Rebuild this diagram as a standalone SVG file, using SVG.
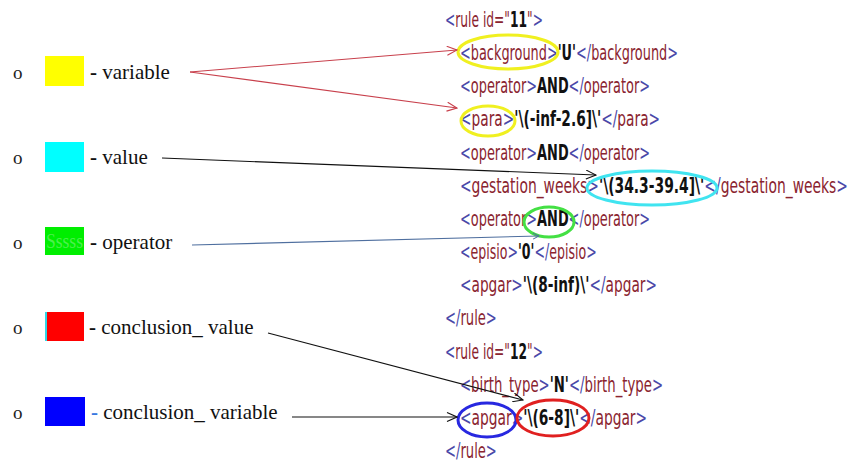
<svg xmlns="http://www.w3.org/2000/svg" width="851" height="464" viewBox="0 0 851 464">
  <style>
    .lbl { font-family: "Liberation Serif", "Times New Roman", serif; font-size: 21px; fill: #111; }
    .dash { font-weight: bold; }
    .bul { font-family: "Liberation Serif", serif; font-size: 19px; fill: #222; }
    .xml { font-family: "DejaVu Sans Condensed", "DejaVu Sans", sans-serif; font-size: 22px; }
    .b { fill: #4a48a8; }
    .t { fill: #8a2430; }
    .v { fill: #111; font-weight: bold; }
    .ring { fill: none; stroke-width: 3; }
    .conn { fill: none; stroke-width: 1.1; }
  </style>
  <defs>
    <marker id="arrRed" markerUnits="userSpaceOnUse" markerWidth="12" markerHeight="10" refX="11" refY="5" orient="auto">
      <path d="M1,0.5 L11,5 L1,9.5" fill="none" stroke="#c8404c" stroke-width="1.1"/>
    </marker>
    <marker id="arrBlack" markerUnits="userSpaceOnUse" markerWidth="12" markerHeight="10" refX="11" refY="5" orient="auto">
      <path d="M1,0.5 L11,5 L1,9.5" fill="none" stroke="#111" stroke-width="1.1"/>
    </marker>
    <marker id="arrSteel" markerUnits="userSpaceOnUse" markerWidth="8" markerHeight="8" refX="7" refY="4" orient="auto">
      <path d="M1,1 L7,4 L1,7" fill="none" stroke="#4f6f9f" stroke-width="1"/>
    </marker>
  </defs>
  <rect width="851" height="464" fill="#ffffff"/>

  <!-- legend -->
  <g id="legend-variable">
    <text class="bul" x="13" y="79">o</text>
    <rect x="45" y="56" width="39" height="30" fill="#ffff00"/>
    <text class="lbl" x="90" y="79"><tspan class="dash">-</tspan> variable</text>
  </g>
  <g id="legend-value">
    <text class="bul" x="13" y="164">o</text>
    <rect x="45" y="142" width="39" height="30" fill="#00ffff"/>
    <text class="lbl" x="90" y="164"><tspan class="dash">-</tspan> value</text>
  </g>
  <g id="legend-operator">
    <text class="bul" x="13" y="249">o</text>
    <rect x="45" y="227" width="39" height="28" fill="#00ee00"/>
    <text x="46" y="248" textLength="37" lengthAdjust="spacingAndGlyphs" style="font-family:'Liberation Serif',serif;font-size:20px;fill:#4cf04c">Sssss</text>
    <text class="lbl" x="90" y="249"><tspan class="dash">-</tspan> operator</text>
  </g>
  <g id="legend-conclusion-value">
    <text class="bul" x="13" y="334">o</text>
    <rect x="45" y="312" width="2" height="29" fill="#30d8e8"/>
    <rect x="47" y="312" width="37" height="29" fill="#ff0000"/>
    <text class="lbl" x="89" y="334"><tspan class="dash">-</tspan> conclusion_ value</text>
  </g>
  <g id="legend-conclusion-variable">
    <text class="bul" x="13" y="419">o</text>
    <rect x="45" y="397" width="40" height="29" fill="#0000ff"/>
    <text class="lbl" x="91" y="419"><tspan class="dash" style="fill:#3a78e0">-</tspan> conclusion_ variable</text>
  </g>

  <!-- rule listing: condensed horizontally like the editor font -->
  <g id="rules" class="xml">
    <text transform="translate(445 27) scale(0.628 1)" textLength="156" lengthAdjust="spacingAndGlyphs"><tspan class="b">&lt;</tspan><tspan class="t">rule id="</tspan><tspan class="v">11</tspan><tspan class="t">"</tspan><tspan class="b">&gt;</tspan></text>
    <text transform="translate(460 60) scale(0.647 1)" textLength="337" lengthAdjust="spacingAndGlyphs"><tspan class="b">&lt;</tspan><tspan class="t">background</tspan><tspan class="b">&gt;</tspan><tspan class="v">'U'</tspan><tspan class="b">&lt;/</tspan><tspan class="t">background</tspan><tspan class="b">&gt;</tspan></text>
    <text transform="translate(460 93) scale(0.651 1)" textLength="292" lengthAdjust="spacingAndGlyphs"><tspan class="b">&lt;</tspan><tspan class="t">operator</tspan><tspan class="b">&gt;</tspan><tspan class="v">AND</tspan><tspan class="b">&lt;/</tspan><tspan class="t">operator</tspan><tspan class="b">&gt;</tspan></text>
    <text transform="translate(460 126) scale(0.690 1)" textLength="290" lengthAdjust="spacingAndGlyphs"><tspan class="b">&lt;</tspan><tspan class="t">para</tspan><tspan class="b">&gt;</tspan><tspan class="v">'\(-inf-2.6]\'</tspan><tspan class="b">&lt;/</tspan><tspan class="t">para</tspan><tspan class="b">&gt;</tspan></text>
    <text transform="translate(460 160) scale(0.651 1)" textLength="292" lengthAdjust="spacingAndGlyphs"><tspan class="b">&lt;</tspan><tspan class="t">operator</tspan><tspan class="b">&gt;</tspan><tspan class="v">AND</tspan><tspan class="b">&lt;/</tspan><tspan class="t">operator</tspan><tspan class="b">&gt;</tspan></text>
    <text transform="translate(460 193) scale(0.699 1)" textLength="555" lengthAdjust="spacingAndGlyphs"><tspan class="b">&lt;</tspan><tspan class="t">gestation_weeks</tspan><tspan class="b">&gt;</tspan><tspan class="v">'\(34.3-39.4]\'</tspan><tspan class="b">&lt;/</tspan><tspan class="t">gestation_weeks</tspan><tspan class="b">&gt;</tspan></text>
    <text transform="translate(460 226) scale(0.651 1)" textLength="292" lengthAdjust="spacingAndGlyphs"><tspan class="b">&lt;</tspan><tspan class="t">operator</tspan><tspan class="b">&gt;</tspan><tspan class="v">AND</tspan><tspan class="b">&lt;/</tspan><tspan class="t">operator</tspan><tspan class="b">&gt;</tspan></text>
    <text transform="translate(460 259) scale(0.633 1)" textLength="216" lengthAdjust="spacingAndGlyphs"><tspan class="b">&lt;</tspan><tspan class="t">episio</tspan><tspan class="b">&gt;</tspan><tspan class="v">'0'</tspan><tspan class="b">&lt;/</tspan><tspan class="t">episio</tspan><tspan class="b">&gt;</tspan></text>
    <text transform="translate(460 292) scale(0.691 1)" textLength="285" lengthAdjust="spacingAndGlyphs"><tspan class="b">&lt;</tspan><tspan class="t">apgar</tspan><tspan class="b">&gt;</tspan><tspan class="v">'\(8-inf)\'</tspan><tspan class="b">&lt;/</tspan><tspan class="t">apgar</tspan><tspan class="b">&gt;</tspan></text>
    <text transform="translate(445 325) scale(0.665 1)" textLength="78" lengthAdjust="spacingAndGlyphs"><tspan class="b">&lt;/</tspan><tspan class="t">rule</tspan><tspan class="b">&gt;</tspan></text>
    <text transform="translate(445 359) scale(0.628 1)" textLength="156" lengthAdjust="spacingAndGlyphs"><tspan class="b">&lt;</tspan><tspan class="t">rule id="</tspan><tspan class="v">12</tspan><tspan class="t">"</tspan><tspan class="b">&gt;</tspan></text>
    <text transform="translate(460 392) scale(0.668 1)" textLength="304" lengthAdjust="spacingAndGlyphs"><tspan class="b">&lt;</tspan><tspan class="t">birth_type</tspan><tspan class="b">&gt;</tspan><tspan class="v">'N'</tspan><tspan class="b">&lt;/</tspan><tspan class="t">birth_type</tspan><tspan class="b">&gt;</tspan></text>
    <text transform="translate(460 425) scale(0.693 1)" textLength="270" lengthAdjust="spacingAndGlyphs"><tspan class="b">&lt;</tspan><tspan class="t">apgar</tspan><tspan class="b">&gt;</tspan><tspan class="v">'\(6-8]\'</tspan><tspan class="b">&lt;/</tspan><tspan class="t">apgar</tspan><tspan class="b">&gt;</tspan></text>
    <text transform="translate(445 458) scale(0.665 1)" textLength="78" lengthAdjust="spacingAndGlyphs"><tspan class="b">&lt;/</tspan><tspan class="t">rule</tspan><tspan class="b">&gt;</tspan></text>
  </g>

  <!-- highlight rings -->
  <g id="highlights">
    <ellipse class="ring" cx="508" cy="52" rx="50" ry="17" stroke="#f0f020"/>
    <ellipse class="ring" cx="488" cy="121" rx="27" ry="15" stroke="#f0f020"/>
    <ellipse class="ring" cx="652" cy="188" rx="65" ry="17" stroke="#40e4f0"/>
    <ellipse class="ring" cx="549" cy="222" rx="25" ry="15" stroke="#44e044"/>
    <ellipse class="ring" cx="487" cy="420" rx="29" ry="17" stroke="#2828e0"/>
    <ellipse class="ring" cx="553" cy="418" rx="36" ry="18" stroke="#e02020"/>
  </g>

  <!-- connectors -->
  <g id="connectors">
    <path class="conn" d="M190,72 L457,50" stroke="#c8404c" marker-end="url(#arrRed)"/>
    <path class="conn" d="M190,72 L457,108" stroke="#c8404c" marker-end="url(#arrRed)"/>
    <path class="conn" d="M162,158 L596,175" stroke="#111" marker-end="url(#arrBlack)"/>
    <path class="conn" d="M192,245 L539,236" stroke="#4f6f9f" marker-end="url(#arrSteel)"/>
    <path class="conn" d="M268,333 L523,400" stroke="#111" marker-end="url(#arrBlack)"/>
    <path class="conn" d="M292,417 L457,417" stroke="#111" marker-end="url(#arrBlack)"/>
  </g>
</svg>
